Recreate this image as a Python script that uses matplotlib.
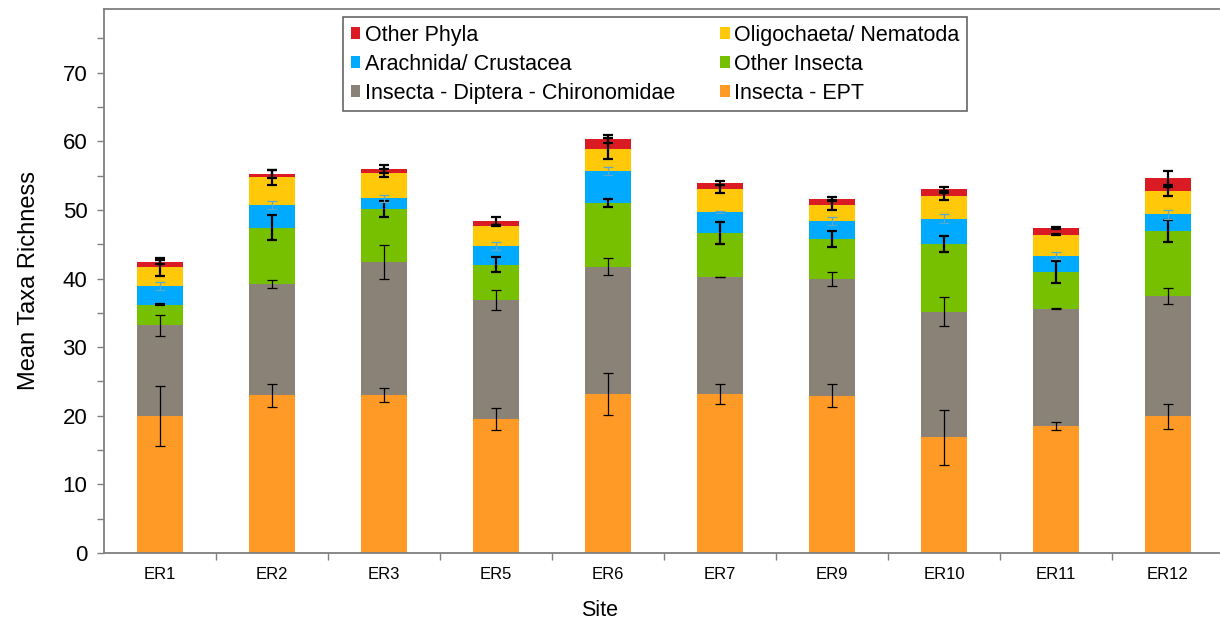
import matplotlib
matplotlib.use("Agg")
import matplotlib.pyplot as plt
from matplotlib.ticker import MultipleLocator, FixedLocator
from matplotlib.patches import Patch
import numpy as np

plt.rcParams['font.family'] = ['Liberation Sans', 'DejaVu Sans']

sites = ["ER1", "ER2", "ER3", "ER5", "ER6", "ER7", "ER9", "ER10", "ER11", "ER12"]

# segment values (bottom to top)
ept      = [20.0, 23.0, 23.0, 19.55, 23.2, 23.2, 22.95, 16.9, 18.55, 19.9]
chiro    = [13.2, 16.2, 19.4, 17.35, 18.55, 17.05, 16.95, 18.3, 17.05, 17.6]
oth_ins  = [3.0, 8.2, 7.7, 5.1, 9.3, 6.45, 5.85, 9.85, 5.3, 9.5]
arach    = [2.7, 3.3, 1.6, 2.7, 4.65, 3.0, 2.65, 3.65, 2.45, 2.35]
oligo    = [2.85, 4.05, 3.7, 3.0, 3.25, 3.4, 2.3, 3.3, 3.05, 3.35]
oth_phy  = [0.65, 0.55, 0.6, 0.7, 1.35, 0.9, 0.95, 1.1, 1.0, 1.95]

# error (+/-) per segment, drawn at the cumulative top
ept_err     = [4.4, 1.7, 1.0, 1.6, 3.05, 1.5, 1.7, 4.0, 0.6, 1.8]
chiro_err   = [1.5, 0.6, 2.5, 1.5, 1.2, 0.05, 1.0, 2.1, 0.05, 1.2]
oth_ins_err = [0.1, 1.8, 1.15, 1.1, 0.6, 1.6, 1.2, 1.2, 1.6, 1.6]
arach_err   = [0.55, 0.55, 0.55, 0.6, 0.55, 0.1, 0.6, 0.65, 0.55, 0.6]
oligo_err   = [1.3, 1.15, 0.6, 0.1, 1.55, 0.6, 0.65, 0.55, 0.1, 0.6]
oth_phy_err = [0.3, 0.6, 0.6, 0.6, 0.6, 0.3, 0.2, 0.3, 0.1, 1.0]

labels = ["Insecta - EPT", "Insecta - Diptera - Chironomidae", "Other Insecta",
          "Arachnida/ Crustacea", "Oligochaeta/ Nematoda", "Other Phyla"]
colors = ["#FF9A26", "#8A8276", "#76C000", "#00AAFF", "#FFC90A", "#DA1B24"]
err_colors = ["#000000", "#000000", "#000000", "#5AA9CC", "#000000", "#000000"]
err_lw = [0.9, 0.9, 1.6, 0.9, 1.6, 1.6]

series = [ept, chiro, oth_ins, arach, oligo, oth_phy]
errors = [ept_err, chiro_err, oth_ins_err, arach_err, oligo_err, oth_phy_err]

W, H = 1220, 625
fig = plt.figure(figsize=(W / 100, H / 100), dpi=100)
ax = fig.add_axes([104 / W, (H - 553) / H, 1120 / W, 544 / H])

x = np.arange(len(sites))
bottom = np.zeros(len(sites))
tops = []
for vals, col, lab in zip(series, colors, labels):
    v = np.array(vals)
    ax.bar(x, v, width=0.41, bottom=bottom, color=col, label=lab,
           edgecolor='none', zorder=2)
    bottom = bottom + v
    tops.append(bottom.copy())

for top, err, ec, lw in zip(tops, errors, err_colors, err_lw):
    ax.errorbar(x, top, yerr=err, fmt='none', ecolor=ec, elinewidth=lw,
                capsize=3.8, capthick=lw, zorder=3)

ax.set_xlim(-0.5, len(sites) - 0.5)
ax.set_ylim(0, 79.3)

ax.yaxis.set_minor_locator(MultipleLocator(5))
ax.set_yticks(np.arange(0, 71, 10))

ax.set_xticks(x)
ax.set_xticklabels(sites)
ax.xaxis.set_minor_locator(FixedLocator(np.arange(0.5, len(sites) - 0.5, 1)))

gray = '#7F7F7F'
for s in ['left', 'bottom', 'top']:
    ax.spines[s].set_color(gray)
    ax.spines[s].set_linewidth(1.3)
ax.spines['right'].set_visible(False)

ax.tick_params(axis='y', which='both', direction='out', length=5, width=1,
               color=gray, labelsize=16, pad=7)
ax.tick_params(axis='x', which='major', length=0, labelsize=12, pad=10)
ax.tick_params(axis='x', which='minor', direction='out', length=5, width=1,
               color=gray)

ax.set_ylabel("Mean Taxa Richness", fontsize=17, labelpad=16)
fig.text(600 / W, 1 - 610 / H, "Site", fontsize=15.5, ha='center', va='center')

# legend: column-wise order
order = [5, 3, 1, 4, 2, 0]
handles = [Patch(facecolor=colors[i], edgecolor='none') for i in order]
leg_labels = [labels[i] for i in order]
leg = fig.legend(handles, leg_labels, ncol=2, loc='upper left',
                 bbox_to_anchor=(343 / W, 1 - 17 / H),
                 frameon=True, fancybox=False, edgecolor='#404040',
                 fontsize=15.5, handlelength=0.45, handleheight=0.45,
                 handletextpad=0.2, columnspacing=2.1, labelspacing=0.38,
                 borderpad=0.35, borderaxespad=0)
leg.get_frame().set_linewidth(1.2)

fig.savefig("out.png", dpi=100)
